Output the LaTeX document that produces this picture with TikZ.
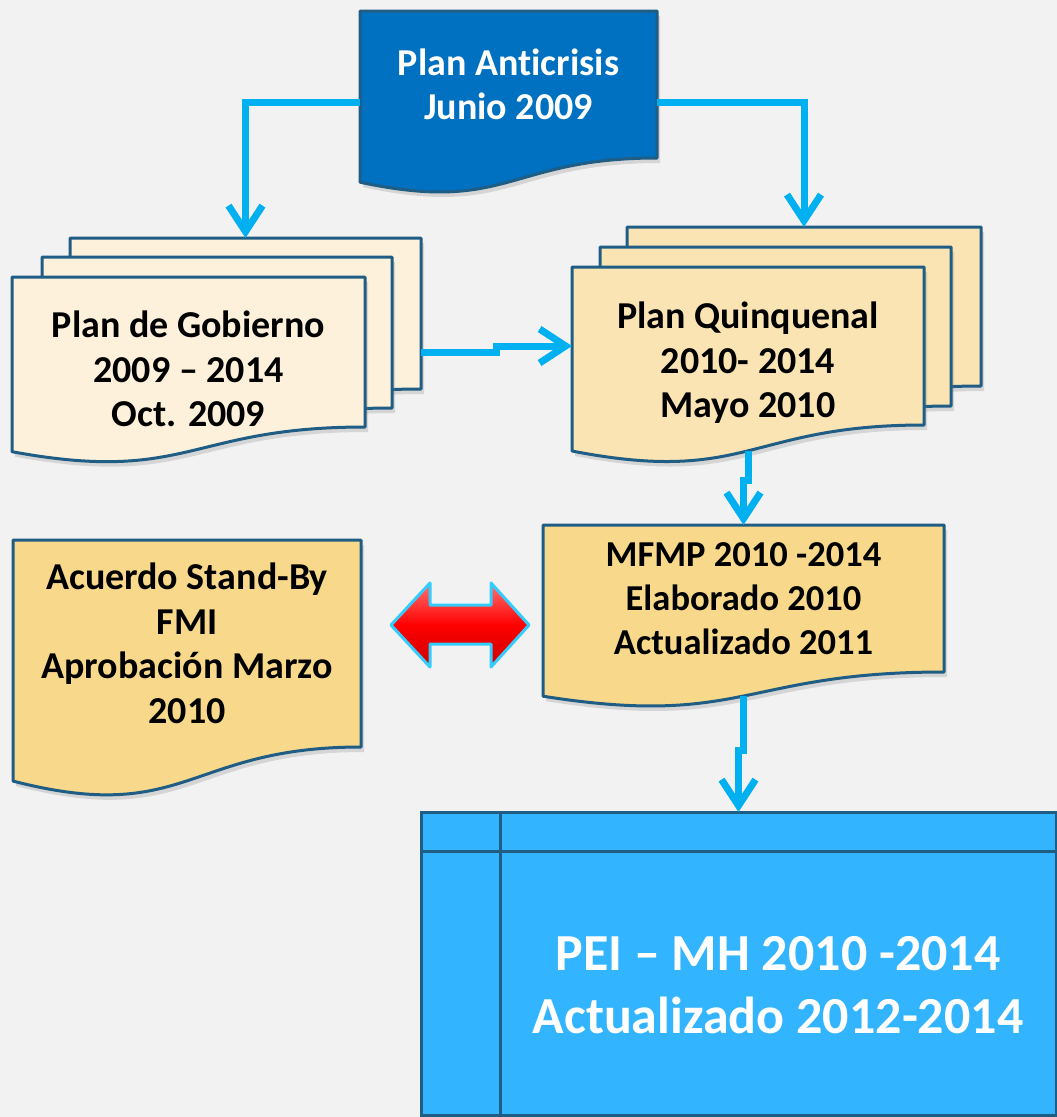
\documentclass[tikz,border=0pt]{standalone}
\usepackage{fontspec}
\setmainfont{Carlito}[Ligatures=NoCommon]
\usetikzlibrary{positioning,calc,arrows.meta,shadows,backgrounds}

\definecolor{bgcol}{HTML}{F2F2F2}
\definecolor{edgecol}{HTML}{1F5D85}
\definecolor{linkcol}{HTML}{00B0F0}
\definecolor{antifill}{HTML}{0070C0}
\definecolor{gobfill}{HTML}{FDF1DC}
\definecolor{quinfill}{HTML}{FAE4B4}
\definecolor{mfmpfill}{HTML}{F8D98B}
\definecolor{peifill}{HTML}{33B4FF}
\definecolor{dbledge}{HTML}{33CCFF}

% sheet with wavy bottom round a node: style, node, node height
\newcommand{\docsheet}[3]{%
  \path[#1] (#2.north west) -- (#2.north east) -- (#2.south east)
    .. controls (#2.south) and ($(#2.south)+(0,0.381*#3)$) .. ($(#2.south west)+(0,0.1646*#3)$) -- cycle;}

\begin{document}
\begin{tikzpicture}[x=1pt,y=-1pt,
    sheetnode/.style={rectangle, inner sep=0pt, outer sep=0pt},
    txt/.style={align=center, inner sep=0pt, font=\fontsize{38}{44.5}\selectfont\bfseries},
    sheet/.style={draw=edgecol, line width=3pt, line join=round,
      drop shadow={shadow xshift=3pt, shadow yshift=-5pt, opacity=0.25}},
    conn/.style={draw=linkcol, line width=7pt, -{Straight Barb[length=26pt,width=34pt]}}]
  \useasboundingbox (0,0) rectangle (1057,1117);

  % Plan Anticrisis
  \node[sheetnode, txt, text=white, minimum width=297, minimum height=147] (anti) at (508.5,84.5) {Plan Anticrisis\\Junio 2009};

  % Plan de Gobierno (three sheets)
  \node[sheetnode, minimum width=351, minimum height=151] (gobA) at (245.5,313.5) {};
  \node[sheetnode, minimum width=350, minimum height=151] (gobB) at (217,332.5) {};
  \node[sheetnode, minimum width=353, minimum height=150] (gob) at (188.5,352) {};

  % Plan Quinquenal (three sheets)
  \node[sheetnode, minimum width=354, minimum height=159] (quinA) at (804,306.5) {};
  \node[sheetnode, minimum width=351, minimum height=159] (quinB) at (775.5,326.5) {};
  \node[sheetnode, minimum width=352, minimum height=158] (quin) at (748,346) {};

  % MFMP and Acuerdo
  \node[sheetnode, txt, font=\fontsize{36.5}{44}\selectfont\bfseries, minimum width=401, minimum height=147] (mfmp) at (743.5,598.5) {MFMP 2010 -2014\\Elaborado 2010\\Actualizado 2011};
  \node[sheetnode, txt, minimum width=348, minimum height=207] (acu) at (187,643.5) {Acuerdo Stand-By\\FMI\\Aprobación Marzo\\2010};

  \begin{scope}[on background layer]
    \fill[bgcol] (0,0) rectangle (1057,1117);
    \docsheet{sheet, fill=antifill}{anti}{147}
    \docsheet{sheet, fill=gobfill}{gobA}{151}
    \docsheet{sheet, fill=gobfill}{gobB}{151}
    \docsheet{sheet, fill=gobfill}{gob}{150}
    \docsheet{sheet, fill=quinfill}{quinA}{159}
    \docsheet{sheet, fill=quinfill}{quinB}{159}
    \docsheet{sheet, fill=quinfill}{quin}{158}
    \docsheet{sheet, fill=mfmpfill}{mfmp}{147}
    \docsheet{sheet, fill=mfmpfill}{acu}{207}
  \end{scope}

  \node[txt] (gobtxt) at (188.5,369) {Plan de Gobierno\\2009 – 2014\\Oct. 2009};
  \node[txt] (quintxt) at (748,363) {Plan Quinquenal\\2010- 2014\\Mayo 2010};

  % PEI - MH
  \node[sheetnode, draw=edgecol, line width=3pt, fill=peifill, minimum width=635, minimum height=303] (pei) at (738.5,963.5) {};
  \draw[edgecol, line width=3pt] ($(pei.north west)+(79,0)$) -- ($(pei.south west)+(79,0)$);
  \draw[edgecol, line width=3pt] ($(pei.north west)+(0,39)$) -- ($(pei.north east)+(0,39)$);
  \node[align=center, text=white, font=\fontsize{52}{63}\selectfont\bfseries] (peitxt) at (778,985) {PEI – MH 2010 -2014\\Actualizado 2012-2014};

  % double arrow between Acuerdo and MFMP
  \draw[draw=dbledge, line width=3pt, line join=round, top color=red!55!white, bottom color=red!80!black, middle color=red]
    (391,625) -- (430,583) -- (430,605) -- (491,605) -- (491,583) -- (529,625)
    -- (491,667) -- (491,644) -- (430,644) -- (430,667) -- cycle;

  % connectors
  \draw[conn] ($(anti.west)+(0,18)$) -| (gobA.north);
  \draw[conn] ($(anti.east)+(0,18)$) -| (quinA.north);
  \draw[conn] (gobA.east |- gob.east) -| ($(gobA.east |- gob.east)!0.5!(quin.west)$) |- (quin.west);
  \coordinate (quinbot) at ($(quin.south)+(0,0.163*158)$);
  \draw[conn] (quinbot) -- ++(0,30) -| (mfmp.north);
  \coordinate (mfmpbot) at ($(mfmp.south)+(0,0.163*147)$);
  \draw[conn] (mfmpbot) -- ++(0,55) -| (pei.north);
\end{tikzpicture}
\end{document}
